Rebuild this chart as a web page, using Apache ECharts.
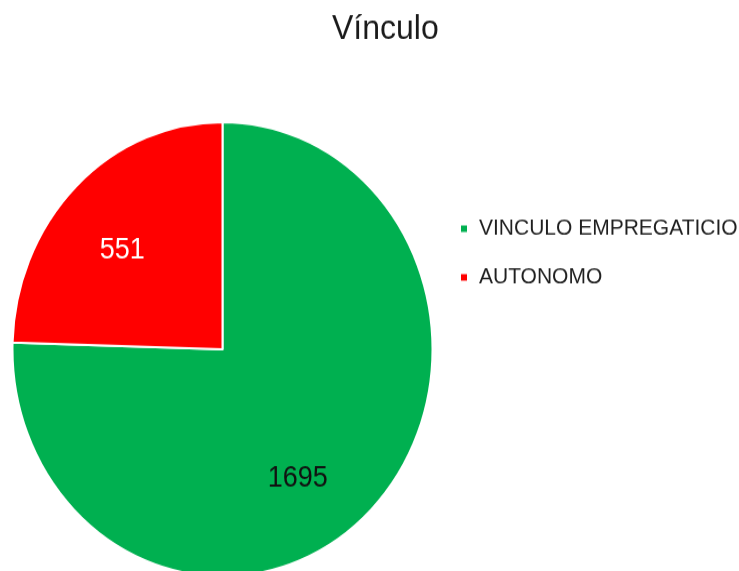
<!DOCTYPE html>
<html>
<head>
<meta charset="utf-8">
<script src="https://cdn.jsdelivr.net/npm/echarts@6/dist/echarts.min.js"></script>
<style>
  html, body { margin: 0; padding: 0; background: #fff; }
  #wrap { width: 739px; height: 571px; overflow: hidden; position: relative; }
  /* the source picture is stretched a little vertically, so the pie is an ellipse */
  #chart { width: 739px; height: 528px; transform: scaleY(1.0814); transform-origin: 0 0; }
</style>
</head>
<body>
<div id="wrap"><div id="chart"></div></div>
<script>
const categories = ['VINCULO EMPREGATICIO', 'AUTONOMO'];
const values = [1695, 551];
const colors = ['#00B050', '#FF0000'];
const labelColors = ['#111', '#fff'];
const labelOffsets = [[0, 42], [-25, -14]];

const chart = echarts.init(document.getElementById('chart'), null, { renderer: 'canvas' });

chart.setOption({
  animation: false,
  title: {
    text: 'Vínculo',
    left: 327,
    top: 6,
    textStyle: { fontFamily: 'Liberation Sans', fontSize: 32, fontWeight: 'normal', color: '#1a1a1a' }
  },
  legend: {
    orient: 'vertical',
    left: 454,
    top: 196,
    itemGap: 24,
    itemWidth: 8,
    itemHeight: 8,
    icon: 'rect',
    data: categories,
    textStyle: { fontFamily: 'Liberation Sans', fontSize: 21, color: '#1f1f1f', padding: [0, 0, 0, 6] }
  },
  series: [{
    type: 'pie',
    center: [222.5, 322.9],
    radius: 210,
    startAngle: 90,
    clockwise: true,
    itemStyle: { borderColor: '#fff', borderWidth: 2 },
    label: {
      show: true,
      position: 'inside',
      formatter: '{c}',
      fontFamily: 'Liberation Sans',
      fontSize: 27
    },
    labelLine: { show: false },
    emphasis: { disabled: true },
    data: categories.map((name, i) => ({
      name,
      value: values[i],
      itemStyle: { color: colors[i] },
      label: { color: labelColors[i], offset: labelOffsets[i] }
    }))
  }]
});
</script>
</body>
</html>
